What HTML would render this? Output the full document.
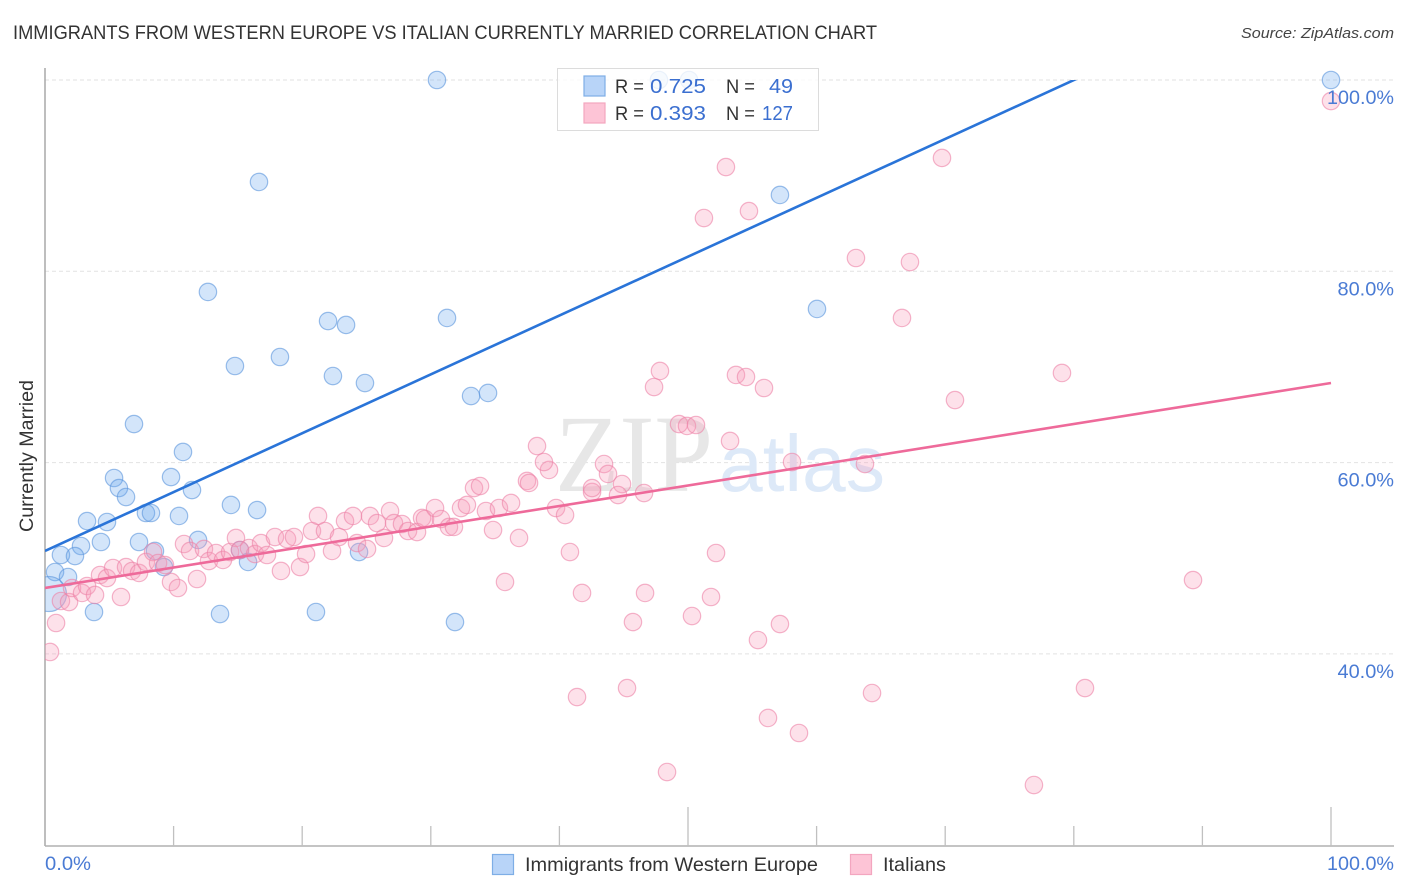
<!DOCTYPE html>
<html lang="en">
<head>
<meta charset="utf-8">
<title>Immigrants from Western Europe vs Italian Currently Married Correlation Chart</title>
<style>
html,body{margin:0;padding:0;background:#fff;width:1406px;height:892px;overflow:hidden}
svg{display:block}
text{font-family:"Liberation Sans",sans-serif}
</style>
</head>
<body>
<svg id="chart" xmlns="http://www.w3.org/2000/svg" width="1406" height="892" viewBox="0 0 1406 892">
  <defs>
    <clipPath id="points-clip"><rect x="45" y="0" width="1361" height="892"/></clipPath>
    <clipPath id="trend-clip"><rect x="45" y="80" width="1361" height="766"/></clipPath>
  </defs>
  <text x="13" y="39" font-size="19.5" fill="#333333" textLength="864" lengthAdjust="spacingAndGlyphs">IMMIGRANTS FROM WESTERN EUROPE VS ITALIAN CURRENTLY MARRIED CORRELATION CHART</text>
  <text x="1241" y="38" font-size="15" font-style="italic" fill="#444444" textLength="153" lengthAdjust="spacingAndGlyphs">Source: ZipAtlas.com</text>
  <g id="grid"></g>
  <g>
    <text x="555" y="491" style="font-family:'Liberation Serif',serif" font-size="110" fill="#e7e7e7" textLength="158" lengthAdjust="spacingAndGlyphs">ZIP</text>
    <text x="719" y="491" font-size="80" fill="#dde9f8" textLength="166" lengthAdjust="spacingAndGlyphs">atlas</text>
  </g>
  <g id="axes">
    <line x1="45" y1="68" x2="45" y2="846" stroke="#a8a8a8" stroke-width="1.5"/>
    <line x1="45" y1="846" x2="1394" y2="846" stroke="#b0b0b0" stroke-width="1.5"/>
  </g>
  <g id="blue-points" clip-path="url(#points-clip)"></g>
  <g id="pink-points" clip-path="url(#points-clip)"></g>
  <g id="trends" clip-path="url(#trend-clip)"></g>
  <g id="tick-labels"></g>
  <text transform="translate(33,532) rotate(-90)" x="0" y="0" font-size="19" fill="#333333" textLength="152" lengthAdjust="spacingAndGlyphs">Currently Married</text>
  <g>
    <rect x="557.5" y="68.5" width="261" height="62" fill="#fff" fill-opacity="0.8" stroke="#dcdcdc" stroke-width="1"/>
    <rect x="584" y="76" width="21" height="20" fill="#b8d4f8" stroke="#7eaee6" stroke-width="1.2"/>
    <rect x="584" y="103" width="21" height="20" fill="#fdc4d6" stroke="#f3a6bf" stroke-width="1.2"/>
    <text x="615" y="93" font-size="19" fill="#333333" textLength="29" lengthAdjust="spacingAndGlyphs">R =</text>
    <text x="650" y="93" font-size="20.5" fill="#3b6fd0" textLength="56" lengthAdjust="spacingAndGlyphs">0.725</text>
    <text x="726" y="93" font-size="19" fill="#333333" textLength="29" lengthAdjust="spacingAndGlyphs">N =</text>
    <text x="769" y="93" font-size="20.5" fill="#3b6fd0" textLength="24" lengthAdjust="spacingAndGlyphs">49</text>
    <text x="615" y="120" font-size="19" fill="#333333" textLength="29" lengthAdjust="spacingAndGlyphs">R =</text>
    <text x="650" y="120" font-size="20.5" fill="#3b6fd0" textLength="56" lengthAdjust="spacingAndGlyphs">0.393</text>
    <text x="726" y="120" font-size="19" fill="#333333" textLength="29" lengthAdjust="spacingAndGlyphs">N =</text>
    <text x="762" y="120" font-size="20.5" fill="#3b6fd0" textLength="31" lengthAdjust="spacingAndGlyphs">127</text>
  </g>
  <g>
    <rect x="492.5" y="854.5" width="21" height="20" fill="#b8d4f8" stroke="#7eaee6" stroke-width="1.2"/>
    <text x="525" y="871" font-size="19.5" fill="#333333" textLength="293" lengthAdjust="spacingAndGlyphs">Immigrants from Western Europe</text>
    <rect x="850.5" y="854.5" width="21" height="20" fill="#fdc4d6" stroke="#f3a6bf" stroke-width="1.2"/>
    <text x="883" y="871" font-size="19.5" fill="#333333" textLength="63" lengthAdjust="spacingAndGlyphs">Italians</text>
  </g>
</svg>
<script>
const blueX = [30.48,100,47.74,50.08,16.64,57.15,12.67,60.03,22.01,23.41,31.26,18.27,14.77,22.39,24.88,33.13,34.45,6.92,10.73,5.37,9.8,5.75,6.3,11.43,14.46,16.49,7.85,8.24,10.42,3.27,4.82,7.31,11.9,2.8,4.35,1.24,2.33,8.55,15.16,24.42,15.79,9.25,0.78,1.79,3.81,13.61,21.07,31.88,0.31];
const blueY = [100,100,100,100,89.34,87.98,77.84,76.06,74.8,74.39,75.12,71.04,70.1,69.05,68.32,66.96,67.28,64.03,61.11,58.39,58.49,57.34,56.4,57.13,55.57,55.04,54.73,54.73,54.42,53.89,53.79,51.7,51.91,51.28,51.7,50.34,50.23,50.76,50.86,50.65,49.61,49.08,48.56,48.04,44.38,44.17,44.38,43.33,46.26];
const pinkX = [0.39,0.86,1.24,1.87,2.1,2.88,3.27,3.89,4.28,4.82,5.29,6.3,6.77,7.31,5.91,7.85,8.4,8.79,9.33,9.8,10.34,11.82,10.81,11.28,12.36,12.75,13.3,13.84,14.39,14.85,15.16,15.86,16.33,16.8,17.26,17.88,18.35,18.82,19.36,19.83,20.3,20.76,21.23,21.77,22.32,22.86,23.33,23.95,24.26,25.04,25.27,25.82,26.83,26.36,27.14,27.76,28.23,28.93,29.32,29.55,30.33,30.79,31.41,31.8,32.35,32.81,33.36,33.83,34.29,34.84,35.3,36.24,36.86,39.74,40.44,40.82,35.77,37.48,37.64,42.54,42.54,39.19,38.26,38.8,43.47,43.78,44.87,46.58,44.56,47.82,47.36,53.73,54.51,55.91,49.3,49.92,50.62,53.27,58.09,63.76,70.76,79.08,66.64,67.26,63.06,69.75,52.95,51.24,54.74,100,89.27,52.18,51.79,50.31,46.66,41.76,45.72,57.15,55.44,64.31,80.87,45.26,41.37,56.22,58.63,48.37,76.9];
const pinkY = [40.2,43.23,45.53,45.42,46.89,46.37,47.1,46.16,48.25,47.93,48.98,49.08,48.67,48.46,45.95,49.61,50.65,49.5,49.29,47.52,46.89,47.83,51.49,50.76,50.97,49.71,50.55,49.82,50.65,52.12,50.86,51.07,50.44,51.59,50.34,52.22,48.67,52.01,52.22,49.08,50.44,52.85,54.42,52.85,50.76,52.22,53.89,54.42,51.59,50.97,54.42,53.68,54.94,52.12,53.68,53.58,52.85,52.74,54.21,54.1,55.25,54.1,53.27,53.27,55.25,55.57,57.34,57.55,54.94,52.95,55.25,55.78,52.12,55.25,54.52,50.65,47.52,58.08,57.87,56.93,57.34,59.23,61.73,60.06,59.85,58.81,57.76,56.82,56.61,69.58,67.9,69.16,68.95,67.8,64.03,63.83,63.93,62.26,60.06,59.85,66.54,69.37,75.12,80.97,81.39,91.85,90.9,85.57,86.3,97.8,47.72,50.55,45.95,43.96,46.37,46.37,43.33,43.12,41.45,35.91,36.43,36.43,35.49,33.3,31.73,27.65,26.29];
const trendXDomain = [0, 100];
const blueTrend = [50.76, 112.3];
const pinkTrend = [46.89, 68.32];
const yTickValues = [100, 80, 60, 40];
const yTickLabels = ["100.0%", "80.0%", "60.0%", "40.0%"];
const xTickValues = [10, 20, 30, 40, 50, 60, 70, 80, 90, 100];
const xEndValues = [0, 100];
const xEndLabels = ["0.0%", "100.0%"];

const SVG_NS = "http://www.w3.org/2000/svg";
function xScale(v) { return 45 + v * 12.86; }
function yScale(v) { return 80 + (100 - v) * 9.565; }
function labelWidth(label) { return label.length * 10.5 + 4; }
function make(tag, parent, attrs) {
  const el = document.createElementNS(SVG_NS, tag);
  for (const k in attrs) el.setAttribute(k, attrs[k]);
  parent.appendChild(el);
  return el;
}

const gridG = document.getElementById("grid");
const labelG = document.getElementById("tick-labels");
const axesG = document.getElementById("axes");

yTickValues.forEach(function (v, i) {
  const line = make("line", gridG, { x1: 45, x2: 1393, y1: yScale(v), y2: yScale(v), stroke: "#e2e2e2", "stroke-width": 1, "stroke-dasharray": "4 3" });
  
  
  const w = labelWidth(yTickLabels[i]);
  const t = make("text", labelG, { x: 1394 - w, y: yScale(v) + 24, "font-size": 19.5, fill: "#4a7bd4", textLength: w, lengthAdjust: "spacingAndGlyphs" });
  t.textContent = yTickLabels[i];
  
  
});

xTickValues.forEach(function (v) {
  const isMajor = v % 50 === 0;
  const tick = make("line", axesG, { x1: xScale(v), x2: xScale(v), y1: isMajor ? 807 : 826, y2: 846, stroke: "#c0c0c0", "stroke-width": 1.3 });
  
  
});

xEndValues.forEach(function (v, i) {
  const w = labelWidth(xEndLabels[i]);
  const t = make("text", labelG, { x: i === 0 ? xScale(v) : 1394 - w, y: 870, "font-size": 19.5, fill: "#4a7bd4", textLength: w, lengthAdjust: "spacingAndGlyphs" });
  t.textContent = xEndLabels[i];
  
  
});

function drawPoints(groupId, xs, ys, fill, stroke, largeIndex) {
  const g = document.getElementById(groupId);
  xs.forEach(function (x, i) {
    const c = make("circle", g, {
      cx: xScale(x), cy: yScale(ys[i]), r: i === largeIndex ? 17.5 : 8.7,
      fill: fill, "fill-opacity": 0.3, stroke: stroke, "stroke-opacity": 0.6, "stroke-width": 1.2
    });
    
    
  });
}
drawPoints("blue-points", blueX, blueY, "#6ea8f0", "#5a95dc", 48);
drawPoints("pink-points", pinkX, pinkY, "#fa9cb8", "#ec82a6", -1);

const trendsG = document.getElementById("trends");
const blueLine = make("line", trendsG, { x1: xScale(trendXDomain[0]), y1: yScale(blueTrend[0]), x2: xScale(trendXDomain[1]), y2: yScale(blueTrend[1]), stroke: "#2a74d8", "stroke-width": 2.6 });


const pinkLine = make("line", trendsG, { x1: xScale(trendXDomain[0]), y1: yScale(pinkTrend[0]), x2: xScale(trendXDomain[1]), y2: yScale(pinkTrend[1]), stroke: "#ee6a9a", "stroke-width": 2.6 });


</script>
</body>
</html>
